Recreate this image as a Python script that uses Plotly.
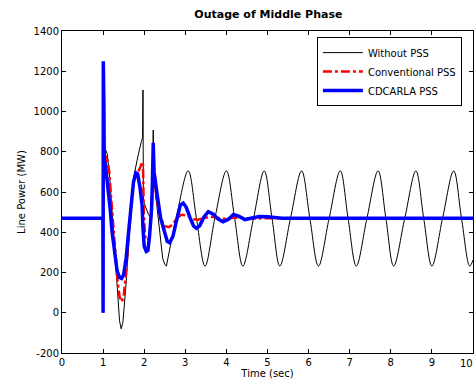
import plotly.graph_objects as go

# ---- Without PSS (black) ----
t_nopss_tr = [0, 1.0, 1.0, 1.01, 1.03, 1.06, 1.1, 1.15, 1.2, 1.25, 1.3, 1.35, 1.4, 1.44, 1.48,
              1.55, 1.6, 1.65, 1.7, 1.75, 1.8, 1.85, 1.93, 1.96, 1.97, 1.98, 2.0, 2.05, 2.1,
              2.17, 2.2, 2.22, 2.23, 2.26, 2.3, 2.35, 2.4, 2.45, 2.5, 2.54]
p_nopss_tr = [470, 470, 0, 1200, 780, 810, 790, 700, 560, 400, 230, 80, -40, -80, -50,
              120, 280, 430, 570, 680, 740, 780, 850, 870, 1107, 560, 545, 520, 490,
              470, 600, 908, 700, 620, 545, 450, 330, 270, 240, 232]
t_nopss_osc = [2.54, 2.78, 3.07, 3.27, 3.48, 3.72, 4.00, 4.20, 4.40, 4.66, 4.92, 5.11, 5.30,
               5.56, 5.83, 6.03, 6.24, 6.50, 6.77, 6.96, 7.16, 7.42, 7.69, 7.88, 8.07, 8.34,
               8.61, 8.80, 9.00, 9.26, 9.53, 9.72, 9.92, 10.0]
p_nopss_osc = [232, 470, 705, 470, 232, 470, 705, 470, 232, 470, 705, 470, 232,
               470, 705, 470, 232, 470, 705, 470, 232, 470, 705, 470, 232, 470,
               705, 470, 232, 470, 705, 470, 232, 262]

# ---- Conventional PSS (red) ----
t_conv = [0, 1.0, 1.005, 1.02, 1.05, 1.08, 1.1, 1.15, 1.2, 1.25, 1.3, 1.35, 1.4, 1.45, 1.5,
          1.55, 1.6, 1.65, 1.7, 1.75, 1.8, 1.85, 1.9, 1.95, 1.97, 1.99, 2.02, 2.07, 2.12,
          2.18, 2.22, 2.25, 2.3, 2.4, 2.5, 2.6, 2.7, 2.8, 2.9, 3.0, 3.1, 3.2, 3.3, 3.45,
          3.6, 3.75, 3.9, 4.05, 4.2, 4.4, 4.6, 5.0, 10.0]
p_conv = [470, 470, 1000, 700, 760, 780, 760, 700, 560, 420, 280, 160, 80, 55, 80,
          180, 320, 460, 580, 660, 690, 700, 720, 750, 740, 500, 380, 360, 370,
          500, 750, 700, 560, 470, 430, 425, 440, 470, 487, 485, 475, 465, 462, 468,
          477, 474, 467, 468, 473, 471, 468, 470, 470]

# ---- CDCARLA PSS (blue) ----
t_cdc = [0, 0.995, 1.0, 1.005, 1.015, 1.02, 1.03, 1.05, 1.08, 1.12, 1.17, 1.22, 1.28, 1.34,
         1.4, 1.45, 1.5, 1.56, 1.62, 1.68, 1.74, 1.8, 1.84, 1.9, 1.95, 1.97, 2.0, 2.05,
         2.09, 2.13, 2.18, 2.2, 2.22, 2.24, 2.27, 2.32, 2.4, 2.5, 2.56, 2.62, 2.7, 2.8,
         2.88, 2.95, 3.02, 3.12, 3.2, 3.27, 3.35, 3.45, 3.56, 3.68, 3.8, 3.92, 4.05, 4.17,
         4.3, 4.45, 4.6, 4.8, 5.0, 5.3, 5.35, 10.0]
p_cdc = [470, 470, 0, 1250, 700, 1020, 700, 750, 690, 620, 520, 400, 290, 210,
         175, 170, 190, 270, 400, 540, 650, 695, 690, 620, 530, 420, 330, 305,
         310, 380, 520, 650, 845, 700, 640, 580, 470, 390, 355, 348, 380, 470,
         535, 545, 525, 470, 432, 420, 432, 475, 502, 490, 465, 452, 465, 488,
         480, 463, 470, 478, 477, 474, 470, 470]

x_ticks = [0, 1, 2, 3, 4, 5, 6, 7, 8, 9, 10]
y_ticks = [-200, 0, 200, 400, 600, 800, 1000, 1200, 1400]

FONT = "DejaVu Sans"

fig = go.Figure()
fig.add_trace(go.Scatter(x=t_nopss_tr, y=p_nopss_tr, mode="lines", name="Without PSS",
                         legendgroup="a", line=dict(color="black", width=1)))
fig.add_trace(go.Scatter(x=t_nopss_osc, y=p_nopss_osc, mode="lines", name="Without PSS",
                         legendgroup="a", showlegend=False,
                         line=dict(color="black", width=1, shape="spline", smoothing=1.0)))
fig.add_trace(go.Scatter(x=t_conv, y=p_conv, mode="lines", name="Conventional PSS",
                         line=dict(color="red", width=2.5, dash="dashdot")))
fig.add_trace(go.Scatter(x=t_cdc, y=p_cdc, mode="lines", name="CDCARLA PSS",
                         line=dict(color="blue", width=3.5)))

axis_common = dict(showline=True, linecolor="black", linewidth=1, mirror="ticks",
                   ticks="inside", ticklen=4, tickcolor="black", showgrid=False,
                   zeroline=False, tickfont=dict(family=FONT, size=10, color="black"))

# last x tick label, nudged so it stays inside the page edge
fig.add_annotation(x=x_ticks[-1], y=0, xref="x", yref="paper", text=str(x_ticks[-1]),
                   showarrow=False, xanchor="right", xshift=2, yanchor="top", yshift=-3,
                   font=dict(family=FONT, size=10, color="black"))

fig.update_layout(
    width=475, height=387,
    margin=dict(l=62, r=2, t=31, b=34),
    paper_bgcolor="white", plot_bgcolor="white",
    title=dict(text="<b>Outage of Middle Phase</b>", x=0.565, xanchor="center",
               y=0.963, yanchor="middle",
               font=dict(family=FONT, size=11, color="black")),
    xaxis=dict(range=[0, 10], tickvals=x_ticks[:-1], ticktext=[str(v) for v in x_ticks[:-1]],
               title=dict(text="Time (sec)", standoff=2,
                          font=dict(family=FONT, size=10, color="black")),
               **axis_common),
    yaxis=dict(range=[-200, 1400], tickvals=y_ticks, ticktext=[str(v) for v in y_ticks],
               title=dict(text="Line Power (MW)", standoff=6,
                          font=dict(family=FONT, size=10, color="black")),
               **axis_common),
    legend=dict(x=0.973, y=0.981, xanchor="right", yanchor="top",
                bgcolor="white", bordercolor="black", borderwidth=1,
                font=dict(family=FONT, size=10, color="black"),
                itemwidth=40, tracegroupgap=0),
    showlegend=True,
)

fig.write_html("out.html")
